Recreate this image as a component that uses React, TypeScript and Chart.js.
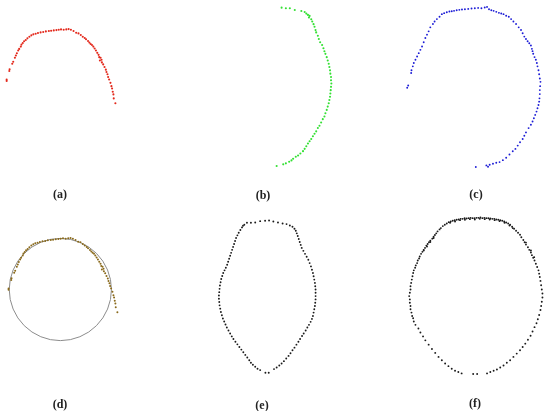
import React, { useEffect, useRef } from "react";
import { Chart, registerables } from "chart.js";

Chart.register(...registerables);

type P = [number, number];

// Panel (a): red scatter (units: 1/3 px of the figure, y downward)
const panelA: P[] = [
  [17, 238], [17, 242], [25, 212], [26, 207], [34, 190], [37, 184], [42, 172], [45, 165],
  [48, 158], [52, 150], [55, 145], [60, 138], [62, 132], [66, 127], [70, 122], [75, 118],
  [80, 113], [86, 108], [92, 104], [98, 101], [105, 99], [112, 97], [120, 95], [128, 94],
  [136, 92], [145, 91], [152, 90], [160, 89], [168, 88], [175, 87], [182, 86], [190, 87],
  [198, 86], [205, 85], [212, 87], [220, 91], [228, 96], [235, 98], [242, 103], [248, 108],
  [254, 112], [258, 116], [264, 121], [268, 126], [272, 130], [276, 133], [280, 138], [284, 144],
  [288, 150], [292, 157], [296, 163], [298, 170], [302, 172], [305, 178], [300, 180], [306, 186],
  [310, 192], [314, 200], [318, 208], [320, 215], [323, 222], [325, 230], [328, 238], [332, 248],
  [335, 258], [337, 265], [339, 275], [341, 283], [342, 295], [347, 310],
];

// Panel (b): green scatter
const panelB: P[] = [
  [305, 20], [318, 22], [330, 22], [345, 27], [365, 30], [375, 33], [380, 38], [385, 42],
  [390, 45], [388, 50], [395, 55], [398, 62], [402, 70], [405, 78], [408, 88], [410, 95],
  [415, 105], [418, 115], [422, 125], [428, 133], [432, 143], [435, 152], [438, 160], [442, 170],
  [445, 180], [448, 190], [450, 200], [452, 210], [453, 220], [455, 230], [455, 240], [456, 250],
  [455, 260], [454, 270], [453, 280], [452, 290], [450, 300], [448, 310], [445, 320], [442, 330],
  [438, 340], [435, 350], [430, 358], [425, 368], [420, 378], [415, 385], [410, 395], [405, 402],
  [400, 410], [395, 418], [390, 425], [385, 432], [380, 440], [375, 448], [370, 455], [362, 462],
  [355, 468], [348, 472], [340, 478], [335, 483], [328, 487], [318, 492], [310, 495], [290, 500],
];

// Panel (c): blue scatter
const panelC: P[] = [
  [110, 263], [113, 256], [122, 218], [123, 210], [127, 198], [130, 188], [135, 178], [140, 168],
  [145, 158], [150, 148], [155, 138], [160, 125], [165, 112], [170, 102], [175, 92], [180, 80],
  [188, 70], [193, 62], [200, 55], [208, 48], [215, 40], [222, 37], [230, 34], [238, 32],
  [245, 31], [252, 30], [260, 28], [268, 27], [276, 26], [285, 25], [295, 24], [305, 23],
  [315, 22], [325, 21], [335, 22], [345, 20], [352, 18], [358, 25], [365, 28], [372, 30],
  [380, 33], [388, 36], [395, 38], [402, 40], [410, 45], [418, 48], [425, 55], [432, 62],
  [440, 70], [448, 80], [455, 88], [460, 98], [465, 108], [470, 115], [475, 122], [480, 128],
  [485, 135], [488, 145], [490, 152], [492, 160], [496, 170], [500, 178], [503, 188], [505, 198],
  [508, 210], [510, 222], [512, 235], [514, 245], [513, 258], [512, 270], [512, 282], [511, 295],
  [510, 305], [508, 315], [505, 325], [502, 335], [498, 345], [494, 355], [490, 365], [485, 375],
  [478, 385], [470, 398], [465, 408], [460, 418], [452, 428], [445, 438], [438, 448], [430, 455],
  [420, 465], [410, 475], [400, 482], [390, 488], [380, 490], [370, 493], [360, 496], [350, 498],
  [355, 502], [318, 503],
];

// Panel (d): the points of (a) with the fitted circle
const fittedCircle = { cx: 174, cy: 241, r: 155 };

// Panel (e): black scatter
const panelE: P[] = [
  [132, 42], [140, 36], [152, 36], [165, 35], [180, 31], [195, 30], [207, 29], [220, 32],
  [234, 35], [248, 38], [260, 40], [270, 44], [278, 48], [284, 54], [288, 60], [291, 68],
  [294, 76], [297, 85], [300, 94], [303, 103], [306, 112], [311, 121], [316, 130], [321, 139],
  [326, 148], [330, 158], [334, 168], [337, 178], [340, 188], [342, 198], [344, 208], [346, 218],
  [347, 228], [348, 238], [348, 248], [348, 258], [348, 268], [347, 278], [346, 288], [344, 298],
  [342, 308], [340, 318], [337, 327], [333, 336], [328, 345], [323, 353], [318, 362], [312, 371],
  [307, 379], [301, 388], [296, 396], [290, 405], [284, 414], [278, 422], [272, 431], [266, 439],
  [259, 447], [252, 455], [245, 462], [238, 468], [230, 474], [222, 479], [206, 490], [196, 490],
  [180, 482], [172, 478], [165, 472], [158, 466], [152, 460], [147, 452], [141, 444], [135, 436],
  [129, 428], [123, 420], [117, 412], [111, 404], [105, 396], [99, 388], [94, 380], [89, 371],
  [84, 362], [79, 353], [75, 344], [71, 335], [67, 326], [64, 316], [61, 306], [59, 296],
  [57, 286], [56, 276], [55, 266], [55, 256], [56, 246], [57, 236], [58, 226], [60, 216],
  [62, 206], [65, 197], [68, 188], [72, 180], [76, 172], [80, 163], [83, 154], [86, 145],
  [89, 136], [92, 127], [95, 118], [98, 109], [101, 100], [104, 91], [107, 82], [111, 74],
  [115, 66], [120, 58], [125, 50], [128, 45],
];

// Panel (f): black scatter
const panelF: P[] = [
  [45, 345], [40, 335], [38, 325], [35, 318], [33, 308], [30, 298], [30, 288], [28, 278],
  [28, 268], [26, 258], [28, 248], [30, 238], [30, 228], [32, 218], [34, 208], [36, 198],
  [38, 188], [40, 180], [44, 172], [46, 165], [50, 158], [52, 150], [56, 144], [58, 138],
  [62, 130], [66, 124], [70, 118], [74, 112], [78, 105], [82, 100], [86, 95], [90, 90],
  [96, 84], [100, 78], [104, 73], [108, 68], [112, 62], [118, 56], [122, 52], [128, 46],
  [134, 42], [140, 38], [146, 34], [152, 32], [158, 30], [164, 28], [170, 27], [176, 26],
  [182, 24], [188, 24], [194, 22], [200, 23], [206, 22], [212, 21], [218, 22], [224, 22],
  [230, 21], [236, 21], [242, 20], [248, 22], [254, 21], [260, 22], [266, 22], [272, 23],
  [278, 24], [284, 24], [290, 26], [296, 27], [302, 28], [308, 30], [314, 32], [320, 35],
  [326, 38], [332, 42], [338, 48], [344, 54], [350, 60], [356, 66], [362, 72], [366, 80],
  [372, 88], [376, 95], [380, 102], [386, 110], [390, 118], [395, 126], [398, 134], [402, 142],
  [406, 150], [410, 160], [414, 170], [418, 180], [420, 190], [422, 200], [424, 212], [426, 225],
  [428, 238], [430, 250], [430, 262], [428, 275], [426, 288], [424, 300], [420, 315], [416, 328],
  [412, 340], [406, 352], [400, 365], [394, 378], [386, 390], [378, 402], [370, 412], [362, 422],
  [352, 432], [342, 442], [332, 452], [322, 460], [312, 468], [302, 474], [292, 480], [282, 484],
  [272, 488], [262, 492], [232, 494], [220, 494], [185, 492], [175, 488], [165, 484], [155, 478],
  [145, 470], [135, 462], [125, 452], [115, 442], [105, 430], [95, 418], [85, 405], [75, 392],
  [68, 380], [60, 368], [54, 356],
  [150, 36], [165, 32], [180, 28], [195, 27], [210, 25], [225, 26], [240, 24], [255, 25],
  [270, 26], [285, 28], [300, 31], [315, 36], [330, 44], [340, 52], [100, 82], [90, 94],
  [80, 108], [70, 120], [380, 96], [395, 120], [405, 140],
];

const panelLabels = ["(a)", "(b)", "(c)", "(d)", "(e)", "(f)"];

type Circle = { cx: number; cy: number; r: number } | null;

interface PanelSpec {
  data: P[];
  color: string;
  radius: number;
  left: number;
  top: number;
  w: number;
  h: number;
  xMin: number;
  xMax: number;
  yMin: number;
  yMax: number;
  labelX: number;
  labelY: number;
  circle: Circle;
}

const circlePlugin = {
  id: "fitCircle",
  beforeDatasetsDraw(chart: any, _args: any, opts: any) {
    const c = opts && opts.circle;
    if (!c) return;
    const xs = chart.scales.x;
    const ys = chart.scales.y;
    const px = xs.getPixelForValue(c.cx);
    const py = ys.getPixelForValue(c.cy);
    const rr = Math.abs(xs.getPixelForValue(c.cx + c.r) - px);
    const ctx = chart.ctx;
    ctx.save();
    ctx.beginPath();
    ctx.arc(px, py, rr, 0, Math.PI * 2);
    ctx.strokeStyle = "#8c8c8c";
    ctx.lineWidth = 1;
    ctx.stroke();
    ctx.restore();
  },
};

function Panel({ spec, label }: { spec: PanelSpec; label: string }) {
  const ref = useRef<HTMLCanvasElement | null>(null);
  useEffect(() => {
    if (!ref.current) return;
    const chart = new Chart(ref.current, {
      type: "scatter",
      data: {
        datasets: [
          {
            label,
            data: spec.data.map(([x, y]) => ({ x, y })),
            pointRadius: spec.radius,
            pointHoverRadius: spec.radius,
            pointBackgroundColor: spec.color,
            pointBorderWidth: 0,
            showLine: false,
            clip: false as any,
          },
        ],
      },
      options: {
        animation: false,
        responsive: false,
        maintainAspectRatio: false,
        layout: { padding: 0 },
        events: [],
        plugins: {
          legend: { display: false },
          tooltip: { enabled: false },
          title: { display: false },
          fitCircle: { circle: spec.circle },
        } as any,
        scales: {
          x: { type: "linear", display: false, min: spec.xMin, max: spec.xMax },
          y: { type: "linear", display: false, reverse: true, min: spec.yMin, max: spec.yMax },
        },
      },
      plugins: [circlePlugin as any],
    });
    return () => chart.destroy();
  }, [spec, label]);

  return (
    <div style={{ position: "absolute", left: spec.left, top: spec.top, width: spec.w, height: spec.h }}>
      <canvas ref={ref} width={spec.w} height={spec.h} style={{ display: "block", width: spec.w, height: spec.h }} />
      <div
        style={{
          position: "absolute",
          left: spec.labelX,
          top: spec.labelY,
          transform: "translate(-50%, -50%)",
          fontFamily: '"Liberation Serif", serif',
          fontWeight: "bold",
          fontSize: 12,
          color: "#222",
          whiteSpace: "nowrap",
          lineHeight: 1,
        }}
      >
        {label}
      </div>
    </div>
  );
}

const specs: PanelSpec[] = [
  { data: panelA, color: "#e3281b", radius: 1.05, left: 0, top: 0, w: 183, h: 205, xMin: 0, xMax: 549, yMin: 0, yMax: 615, labelX: 60, labelY: 194, circle: null },
  { data: panelB, color: "#33e033", radius: 1.05, left: 183, top: 0, w: 184, h: 205, xMin: 9, xMax: 561, yMin: 0, yMax: 615, labelX: 80, labelY: 195, circle: null },
  { data: panelC, color: "#1c1cd6", radius: 0.95, left: 367, top: 0, w: 183, h: 205, xMin: -9, xMax: 540, yMin: 0, yMax: 615, labelX: 109, labelY: 194, circle: null },
  { data: panelA, color: "#8a6a1c", radius: 1.0, left: 0, top: 205, w: 183, h: 206, xMin: -6, xMax: 543, yMin: -12, yMax: 606, labelX: 60, labelY: 199, circle: fittedCircle },
  { data: panelE, color: "#1a1a1a", radius: 0.95, left: 183, top: 205, w: 184, h: 206, xMin: -51, xMax: 501, yMin: -15, yMax: 603, labelX: 79, labelY: 200, circle: null },
  { data: panelF, color: "#1a1a1a", radius: 0.95, left: 367, top: 205, w: 183, h: 206, xMin: -99, xMax: 450, yMin: -15, yMax: 603, labelX: 108, labelY: 198, circle: null },
];

export default function App() {
  return (
    <div style={{ position: "absolute", left: 0, top: 0, width: 550, height: 411, background: "#fff", overflow: "hidden" }}>
      {specs.map((s, i) => (
        <Panel key={i} spec={s} label={panelLabels[i]} />
      ))}
    </div>
  );
}
